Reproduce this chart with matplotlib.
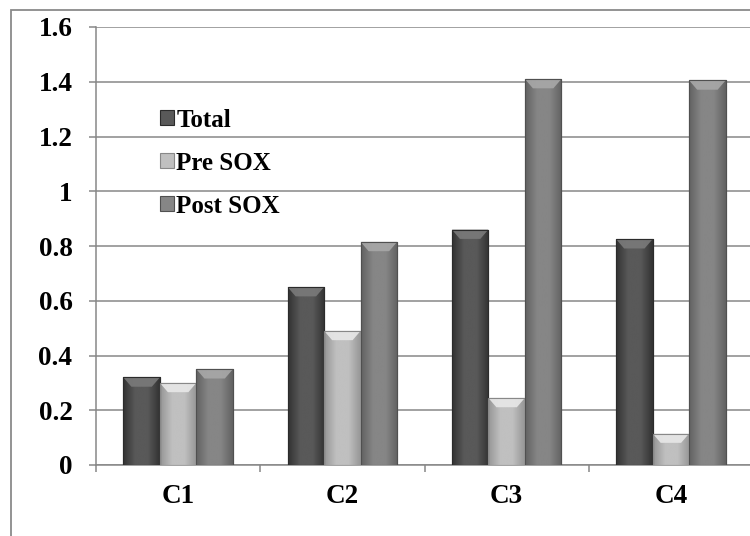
import numpy as np
import matplotlib
matplotlib.use("Agg")
import matplotlib.pyplot as plt
from matplotlib.patches import Rectangle, Polygon, Patch
from matplotlib.colors import LinearSegmentedColormap

# ---- data ----
categories = ["C1", "C2", "C3", "C4"]
series_names = ["Total", "Pre SOX", "Post SOX"]
total = [0.32, 0.65, 0.86, 0.825]
pre_sox = [0.30, 0.49, 0.245, 0.115]
post_sox = [0.35, 0.815, 1.41, 1.405]
y_ticks = [0, 0.2, 0.4, 0.6, 0.8, 1.0, 1.2, 1.4, 1.6]
y_tick_labels = ["0", "0.2", "0.4", "0.6", "0.8", "1", "1.2", "1.4", "1.6"]

# ---- styles ----
edge_cols = ["#333333", "#969696", "#626262"]
mid_cols = ["#595959", "#c0c0c0", "#868686"]
top_cols = ["#7a7a7a", "#e8e8e8", "#a8a8a8"]
outline_cols = ["#2b2b2b", "#888888", "#505050"]
grid_col = "#878787"

plt.rcParams["font.family"] = ["Liberation Serif", "DejaVu Serif"]
plt.rcParams["font.weight"] = "bold"

W, H = 750, 536
fig = plt.figure(figsize=(W / 100, H / 100), dpi=100)
fig.patch.set_facecolor("white")

# chart-area frame (extends past the right / bottom edges)
fig.patches.append(Rectangle((11 / W, -0.2), 1.3, 1 - 10 / H + 0.2,
                             transform=fig.transFigure, fill=False,
                             edgecolor="#8a8a8a", linewidth=1.3, zorder=0))

ax = fig.add_axes([96 / W, 71 / H, 657 / W, 438 / H])
ax.set_facecolor("none")

n = len(series_names)
group = 0.667
bw = group / n
x = np.arange(len(categories))
data = [total, pre_sox, post_sox]

ax.set_xlim(-0.5, len(categories) - 0.5)
ax.set_ylim(0, 1.6)

for i, vals in enumerate(data):
    offs = x - group / 2 + bw * (i + 0.5)
    bars = ax.bar(offs, vals, width=bw, color=mid_cols[i],
                  edgecolor=outline_cols[i], linewidth=0.8, zorder=3)
    cmap = LinearSegmentedColormap.from_list(
        "g%d" % i, [edge_cols[i], mid_cols[i], mid_cols[i], edge_cols[i]])
    grad = np.linspace(0, 1, 64).reshape(1, -1)
    for b in bars:
        x0, y0 = b.get_x(), b.get_y()
        w, h = b.get_width(), b.get_height()
        im = ax.imshow(grad, cmap=cmap, extent=(x0, x0 + w, y0, y0 + h),
                       aspect="auto", zorder=3.5, interpolation="bicubic")
        im.set_clip_path(b)
        # top bevel
        bh = min(0.034, h * 0.45)
        dx = w * 0.22
        ax.add_patch(Polygon([(x0, y0 + h), (x0 + w, y0 + h),
                              (x0 + w - dx, y0 + h - bh), (x0 + dx, y0 + h - bh)],
                             closed=True, facecolor=top_cols[i],
                             edgecolor="none", alpha=0.9, zorder=4))
        ax.add_patch(Rectangle((x0, y0), w, h, fill=False,
                               edgecolor=outline_cols[i], linewidth=0.8, zorder=5))

ax.set_xlim(-0.5, len(categories) - 0.5)
ax.set_ylim(0, 1.6)

# grid
ax.set_yticks(y_ticks)
ax.set_yticklabels(y_tick_labels)
ax.yaxis.grid(True, color=grid_col, linewidth=1.1, zorder=1)
ax.set_axisbelow(True)

ax.set_xticks(x)
ax.set_xticklabels(categories)
ax.set_xticks(np.arange(-0.5, len(categories)), minor=True)
ax.tick_params(axis="x", which="major", length=0, pad=14, labelsize=19.5)
ax.tick_params(axis="x", which="minor", length=5, width=1.1, color=grid_col,
               direction="out")
ax.tick_params(axis="y", which="major", length=5, width=1.1, color=grid_col,
               pad=12, labelsize=19.5, direction="out")

for s in ["top", "right"]:
    ax.spines[s].set_visible(False)
for s in ["left", "bottom"]:
    ax.spines[s].set_color(grid_col)
    ax.spines[s].set_linewidth(1.1)

handles = [Patch(facecolor=mid_cols[i], edgecolor=outline_cols[i], linewidth=0.8)
           for i in range(n)]
leg = fig.legend(handles, series_names, loc="center left",
                 bbox_to_anchor=(160 / W, 1 - 163 / H), frameon=False,
                 borderpad=0, borderaxespad=0, handlelength=0.55,
                 handleheight=0.55, handletextpad=0.1, labelspacing=0.8,
                 prop={"family": ["Liberation Serif"], "weight": "bold",
                       "size": 18})

fig.savefig("out.png", dpi=100, facecolor="white")
